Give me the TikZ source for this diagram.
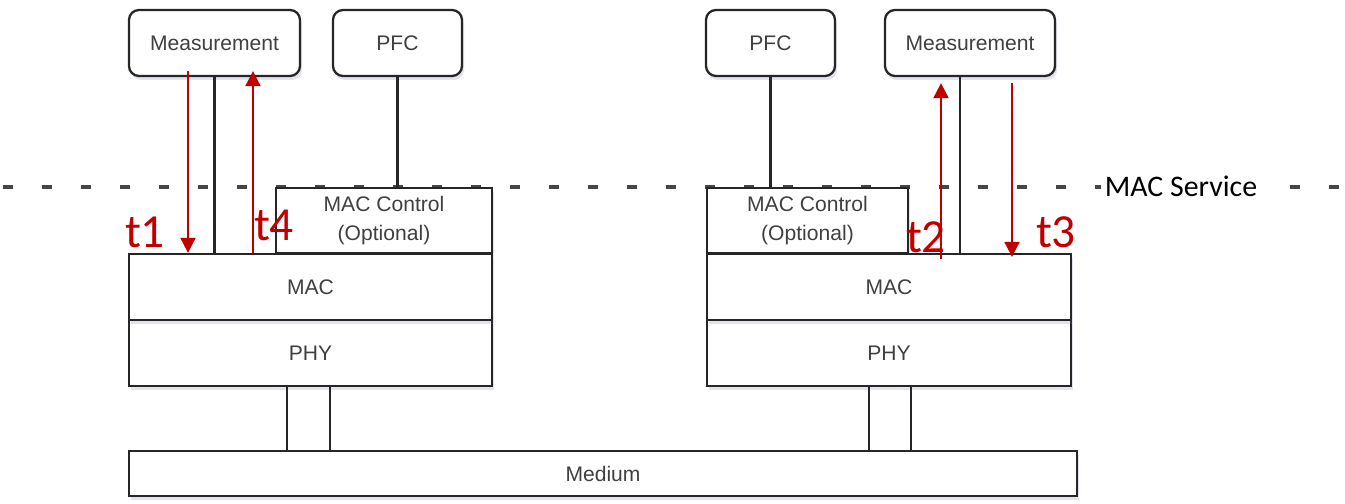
\documentclass[tikz,border=0pt]{standalone}
\usepackage{fontspec}
\setmainfont{Liberation Sans}
\newfontfamily\calfont{Carlito}
\usetikzlibrary{arrows.meta,calc,shadows}
\definecolor{tsred}{HTML}{C00000}
\definecolor{boxtext}{HTML}{404040}
\tikzset{
  layer/.style={draw=black!85, line width=1.3pt, fill=white, font=\fontsize{12}{17}\selectfont,
    text=boxtext, align=center, inner sep=0pt,
    drop shadow={opacity=0.18, fill=blue!20!gray, shadow xshift=0.04cm, shadow yshift=-0.08cm}},
  entity/.style={layer, rounded corners=0.2cm},
  link/.style={line width=1.5pt, black!85},
  tsarrow/.style={line width=1.1pt, tsred, -{Triangle[length=0.3cm,width=0.3cm]}},
  tslabel/.style={text=tsred, font=\calfont\fontsize{27}{30}\selectfont, inner sep=0pt},
}
\begin{document}
\begin{tikzpicture}
    \useasboundingbox (0,0) rectangle (26.9,10.08);
    % service boundary
    \draw[line width=2.2pt, gray!55!black, dash pattern=on 0.2cm off 0.58cm] (0.05,6.34) -- (26.9,6.34);
    \node[fill=white, inner sep=2pt, font=\calfont\fontsize{17}{20}\selectfont] (svc) at (23.62,6.36) {MAC Service};
    % left station
    \node[entity, minimum width=3.42cm, minimum height=1.32cm] (measL) at (4.29,9.22) {Measurement};
    \node[entity, minimum width=2.58cm, minimum height=1.32cm] (pfcL) at (7.95,9.22) {PFC};
    \node[layer, minimum width=4.32cm, minimum height=1.3cm] (ctrlL) at (7.68,5.67) {MAC Control\\(Optional)};
    \node[layer, minimum width=7.26cm, minimum height=1.32cm] (phyL) at (6.21,3.02) {PHY};
    \node[layer, minimum width=7.26cm, minimum height=1.32cm] (macL) at (6.21,4.34) {MAC};
    % right station
    \node[entity, minimum width=2.58cm, minimum height=1.32cm] (pfcR) at (15.41,9.22) {PFC};
    \node[entity, minimum width=3.40cm, minimum height=1.32cm] (measR) at (19.40,9.22) {Measurement};
    \node[layer, minimum width=4.02cm, minimum height=1.3cm] (ctrlR) at (16.15,5.67) {MAC Control\\(Optional)};
    \node[layer, minimum width=7.28cm, minimum height=1.32cm] (phyR) at (17.78,3.02) {PHY};
    \node[layer, minimum width=7.28cm, minimum height=1.32cm] (macR) at (17.78,4.34) {MAC};
    % medium
    \node[layer, minimum width=18.96cm, minimum height=0.9cm] (medium) at (12.06,0.61) {Medium};
    % connections
    \draw[link] (measL.south) -- (measL.south |- macL.north);
    \draw[link] (pfcL.south) -- (pfcL.south |- ctrlL.north);
    \draw[link] (pfcR.south) -- (pfcR.south |- ctrlR.north);
    \draw[link] ([xshift=-0.2cm]measR.south) -- ([xshift=-0.2cm]measR.south |- macR.north);
    \draw[link] ([xshift=-0.47cm]phyL.south) -- ([xshift=-0.47cm]phyL.south |- medium.north);
    \draw[link] ([xshift=0.39cm]phyL.south) -- ([xshift=0.39cm]phyL.south |- medium.north);
    \draw[link] ([xshift=-0.40cm]phyR.south) -- ([xshift=-0.40cm]phyR.south |- medium.north);
    \draw[link] ([xshift=0.44cm]phyR.south) -- ([xshift=0.44cm]phyR.south |- medium.north);
    % timestamps
    \draw[tsarrow] ([xshift=-0.53cm,yshift=0.12cm]measL.south) -- ([xshift=-0.53cm]measL.south |- macL.north);
    \draw[tsarrow] ([xshift=0.77cm]measL.south |- macL.north) -- ([xshift=0.77cm,yshift=0.12cm]measL.south);
    \draw[tsarrow] ([xshift=-0.58cm,yshift=-0.12cm]measR.south |- macR.north) -- ([xshift=-0.58cm,yshift=-0.12cm]measR.south);
    \draw[tsarrow] ([xshift=0.84cm,yshift=-0.12cm]measR.south) -- ([xshift=0.84cm,yshift=-0.08cm]measR.south |- macR.north);
    \node[tslabel] (t1) at (2.90,5.44) {t1};
    \node[tslabel] (t4) at (5.48,5.58) {t4};
    \node[tslabel] (t2) at (18.52,5.34) {t2};
    \node[tslabel] (t3) at (21.12,5.44) {t3};
\end{tikzpicture}
\end{document}
